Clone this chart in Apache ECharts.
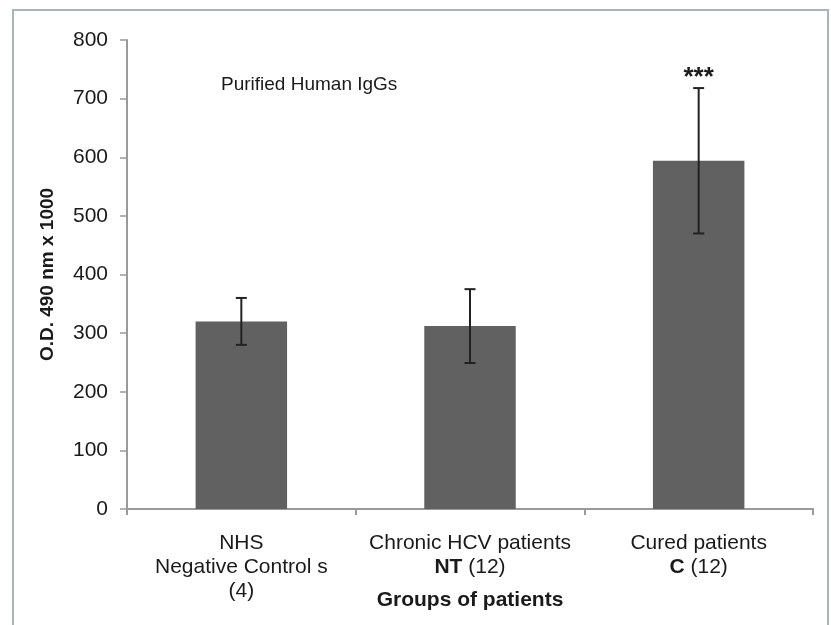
<!DOCTYPE html>
<html>
<head>
<meta charset="utf-8">
<script src="https://cdn.jsdelivr.net/npm/echarts@6/dist/echarts.min.js"></script>
<style>html,body{margin:0;padding:0;background:#fff;}#c{width:831px;height:625px;}</style>
</head>
<body>
<div id="c"></div>
<script>
var categories = ['NHS\nNegative Control s\n(4)', 'Chronic HCV patients\n{b|NT} (12)', 'Cured patients\n{b|C} (12)'];
var means = [320, 312, 594];
var errors = [40, 63, 124];
var significance = ['', '', '***'];
var yTicks = [0, 100, 200, 300, 400, 500, 600, 700, 800];
var yTitle = 'O.D. 490 nm x 1000';
var xTitle = 'Groups of patients';
var note = 'Purified Human IgGs';

var FONT = '"Liberation Sans", Arial, sans-serif';
var chart = echarts.init(document.getElementById('c'));
var errData = means.map(function (m, i) { return [i, m - errors[i], m + errors[i], significance[i]]; });

chart.setOption({
  animation: false,
  backgroundColor: '#ffffff',
  graphic: [{
    type: 'rect', silent: true,
    shape: { x: 13, y: 10, width: 815, height: 660 },
    style: { fill: 'none', stroke: '#a8b6b6', lineWidth: 2 }
  }, {
    type: 'text', left: 221, top: 75,
    style: { text: note, fontFamily: FONT, fontSize: 19, fill: '#1a1a1a' }
  }],
  grid: { left: 127, right: 18, top: 40, bottom: 116, containLabel: false, outerBoundsMode: 'none' },
  xAxis: {
    type: 'category',
    data: categories,
    name: xTitle,
    nameLocation: 'middle',
    nameGap: 81,
    nameMoveOverlap: false,
    nameTextStyle: { fontFamily: FONT, fontSize: 21, fontWeight: 'bold', color: '#1a1a1a' },
    axisLine: { lineStyle: { color: '#9a9a9a', width: 2 } },
    axisTick: { show: true, interval: 0, length: 6, lineStyle: { color: '#9a9a9a', width: 2 } },
    axisLabel: {
      interval: 0, margin: 22, fontFamily: FONT, fontSize: 21, color: '#1a1a1a',
      lineHeight: 24, align: 'center',
      rich: { b: { fontWeight: 'bold', fontFamily: FONT, fontSize: 21, color: '#1a1a1a', lineHeight: 24 } }
    }
  },
  yAxis: {
    type: 'value',
    min: 0, max: 800, interval: 100,
    name: yTitle,
    nameLocation: 'middle',
    nameGap: 70,
    nameMoveOverlap: false,
    nameTextStyle: { fontFamily: FONT, fontSize: 19, fontWeight: 'bold', color: '#1a1a1a' },
    axisLine: { show: true, lineStyle: { color: '#9a9a9a', width: 2 } },
    axisTick: { show: true, length: 7, lineStyle: { color: '#9a9a9a', width: 1.5 } },
    axisLabel: {
      margin: 19, fontFamily: FONT, fontSize: 21, color: '#1a1a1a',
      formatter: function (v) { return yTicks.indexOf(v) >= 0 ? String(v) : ''; }
    },
    splitLine: { show: false }
  },
  series: [{
    type: 'bar',
    data: means,
    barWidth: '40%',
    itemStyle: { color: '#616161' },
    silent: true
  }, {
    type: 'custom',
    data: errData,
    silent: true,
    z: 10,
    renderItem: function (params, api) {
      var x = api.value(0);
      var lo = api.coord([x, api.value(1)]);
      var hi = api.coord([x, api.value(2)]);
      var hw = 5.5;
      var st = { stroke: '#222222', lineWidth: 2 };
      var children = [
        { type: 'line', shape: { x1: hi[0], y1: hi[1], x2: lo[0], y2: lo[1] }, style: st },
        { type: 'line', shape: { x1: hi[0] - hw, y1: hi[1], x2: hi[0] + hw, y2: hi[1] }, style: st },
        { type: 'line', shape: { x1: lo[0] - hw, y1: lo[1], x2: lo[0] + hw, y2: lo[1] }, style: st }
      ];
      var s = significance[params.dataIndex];
      if (s) {
        children.push({
          type: 'text',
          style: {
            text: s, x: hi[0], y: hi[1] + 3, align: 'center', verticalAlign: 'bottom',
            fontFamily: FONT, fontSize: 26, fontWeight: 'bold', fill: '#1a1a1a'
          }
        });
      }
      return { type: 'group', children: children };
    }
  }]
});
</script>
</body>
</html>
